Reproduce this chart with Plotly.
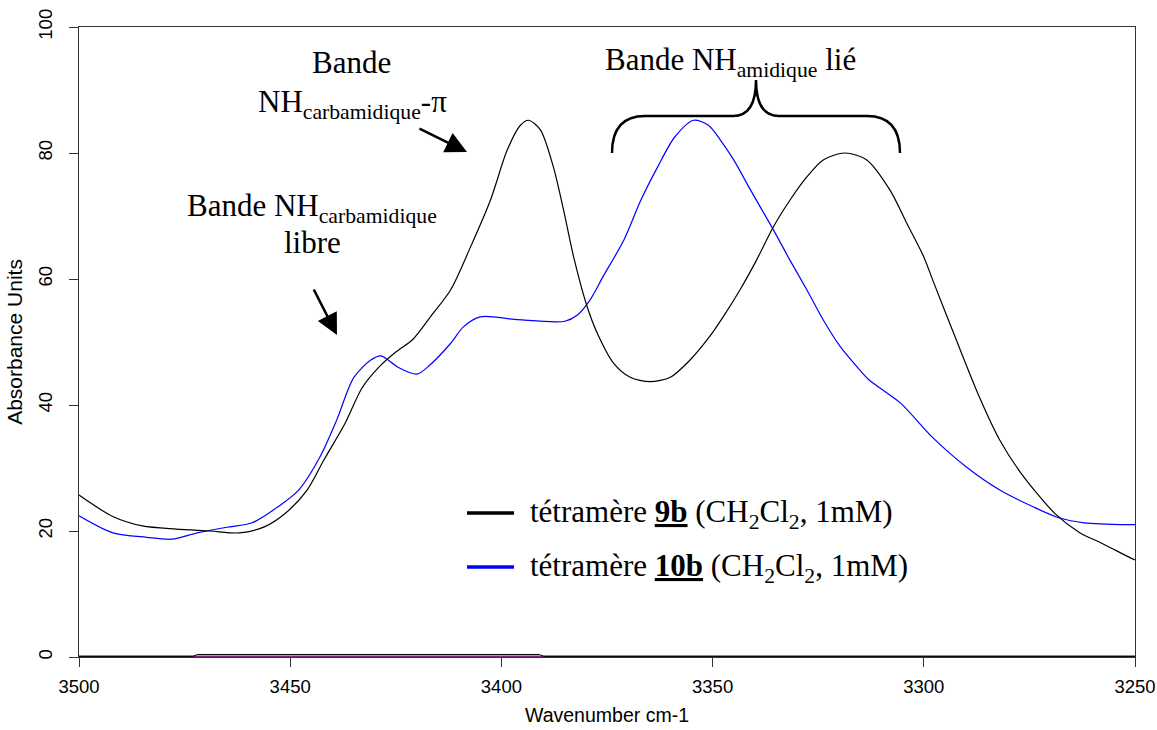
import plotly.graph_objects as go

# ---------------- data ----------------
wn_9b = [3500, 3492, 3485, 3477, 3469, 3462, 3456, 3451, 3446, 3442, 3437, 3433, 3429, 3425,
         3421, 3416.8, 3412, 3407.3, 3402.6, 3398.6, 3395.5, 3393.6, 3390.8, 3387.7, 3385.3,
         3382.9, 3379.7, 3377.3, 3373.5, 3369.5, 3364.8, 3360, 3355.4, 3351, 3347.5, 3343.5,
         3339.6, 3335.6, 3331.7, 3327.7, 3323.8, 3318.7, 3313.5, 3308, 3304, 3300, 3297.7,
         3293, 3287, 3282, 3277, 3269, 3263, 3258, 3251, 3250]
abs_9b = [25.7, 22.3, 20.8, 20.3, 20.0, 19.7, 20.7, 22.9, 26.5, 31.3, 37.1, 42.7, 46.0, 48.4,
          50.4, 54.0, 58.3, 65.1, 72.5, 80.5, 84.4, 85.2, 83.7, 77.8, 71.0,
          63.5, 55.6, 51.4, 46.7, 44.4, 43.7, 44.4, 47.1, 50.6, 54.0, 58.3,
          63.0, 68.3, 72.5, 76.2, 78.9, 80.0, 78.9, 74.1, 68.8, 63.5, 59.5,
          51.5, 41.5, 34.4, 29.2, 22.8, 19.7, 18.1, 15.7, 15.4]

wn_10b = [3500, 3492, 3484, 3478, 3472, 3465, 3459, 3453, 3448, 3443, 3439, 3435, 3431, 3428.5,
          3424.5, 3420, 3417, 3412, 3409, 3405, 3397, 3391, 3385, 3382, 3379, 3376, 3371, 3367,
          3363, 3359, 3354.5, 3351, 3348.2, 3345, 3341, 3335.6, 3331.7, 3327.7, 3323.8, 3319.8,
          3316, 3313, 3305.5, 3298, 3290, 3282, 3274, 3268, 3262, 3251, 3250]
abs_10b = [22.4, 19.7, 19.0, 18.7, 19.7, 20.6, 21.3, 23.8, 26.5, 31.7, 37.6, 44.3, 47.1, 47.8,
           46.0, 44.9, 46.3, 49.8, 52.4, 54.0, 53.6, 53.3, 53.3, 54.3, 56.7, 60.3, 66.2, 72.5,
           77.8, 82.5, 85.2, 84.4, 82.1, 78.9, 74.1, 67.8, 63.0, 58.3, 53.5, 49.3,
           46.2, 44.0, 40.3, 34.9, 30.2, 26.5, 23.8, 22.1, 21.3, 21.0, 21.0]

# baseline traces near zero
wn_base = [3500, 3473, 3472, 3391, 3390, 3250]
abs_base_black = [0.1, 0.1, 0.4, 0.4, 0.1, 0.1]
wn_zero = [3500, 3250]
abs_zero = [0, 0]

x_ticks = [3500, 3450, 3400, 3350, 3300, 3250]
y_ticks = [0, 20, 40, 60, 80, 100]

legend_names = ["tétramère <b><u>9b</u></b> (CH<sub>2</sub>Cl<sub>2</sub>, 1mM)",
                "tétramère <b><u>10b</u></b> (CH<sub>2</sub>Cl<sub>2</sub>, 1mM)"]
legend_colors = ["#000000", "#0000ff"]

# ---------------- layout helpers ----------------
W, H = 1157, 730
L, R, T, B = 79, 1135, 27, 657          # plot area in pixels


def px(x, y):
    """pixel -> paper fraction"""
    return (x - L) / (R - L), (B - y) / (B - T)


SERIF = "Liberation Serif, Times New Roman, serif"
SANS = "Liberation Sans, Arial, sans-serif"
FS = 31

fig = go.Figure()
fig.add_trace(go.Scatter(x=wn_zero, y=abs_zero, mode="lines",
                         line=dict(color="#7a2a7a", width=3), showlegend=False, hoverinfo="skip"))
fig.add_trace(go.Scatter(x=wn_base, y=abs_base_black, mode="lines",
                         line=dict(color="#000000", width=1), showlegend=False, hoverinfo="skip"))
fig.add_trace(go.Scatter(x=wn_10b, y=abs_10b, mode="lines", name="10b",
                         line=dict(color="#0000ff", width=1.2, shape="spline", smoothing=0.8),
                         showlegend=False))
fig.add_trace(go.Scatter(x=wn_9b, y=abs_9b, mode="lines", name="9b",
                         line=dict(color="#000000", width=1.2, shape="spline", smoothing=0.8),
                         showlegend=False))

annotations = []
shapes = []


def text_at(txt, cx, cy, size=FS):
    x, y = px(cx, cy)
    annotations.append(dict(text=txt, x=x, y=y, xref="paper", yref="paper",
                            xanchor="center", yanchor="middle", showarrow=False,
                            font=dict(family=SERIF, size=size, color="black")))


def arrow(tail, tip):
    x, y = px(*tip)
    annotations.append(dict(text="", x=x, y=y, xref="paper", yref="paper",
                            ax=tail[0] - tip[0], ay=tail[1] - tip[1],
                            showarrow=True, arrowhead=2, arrowsize=1.7, arrowwidth=2.5,
                            arrowcolor="black", standoff=0))


text_at("Bande", 351, 62)
text_at("NH<sub>carbamidique</sub>-π", 352, 104)
text_at("Bande NH<sub>carbamidique</sub>", 312, 208)
text_at("libre", 312, 242)
text_at("Bande NH<sub>amidique</sub> lié", 730, 62)
arrow((418, 128), (467, 152))
arrow((313, 288), (337, 335))


def P(x, y):
    a, b = px(x, y)
    return f"{a:.5f},{b:.5f}"


path = (f"M {P(612,153)} Q {P(612,116)} {P(645,116)} L {P(733,116)} "
        f"Q {P(756,116)} {P(756,80)} Q {P(756,116)} {P(779,116)} "
        f"L {P(867,116)} Q {P(900,116)} {P(900,153)}")
shapes.append(dict(type="path", path=path, xref="paper", yref="paper",
                   line=dict(color="black", width=2.5)))

# manual legend
rows_y = [513, 567]
for name, col, ry in zip(legend_names, legend_colors, rows_y):
    x0, y0 = px(467, ry)
    x1, _ = px(514, ry)
    shapes.append(dict(type="line", x0=x0, x1=x1, y0=y0, y1=y0, xref="paper", yref="paper",
                       line=dict(color=col, width=3.5)))
    xa, ya = px(528, ry + 1)
    annotations.append(dict(text=name, x=xa, y=ya, xref="paper", yref="paper",
                            xanchor="left", yanchor="middle", showarrow=False,
                            font=dict(family=SERIF, size=31, color="black")))

fig.update_layout(
    width=W, height=H,
    margin=dict(l=L, r=W - R, t=T, b=H - B, pad=0),
    paper_bgcolor="white", plot_bgcolor="white",
    annotations=annotations, shapes=shapes,
    xaxis=dict(range=[3500, 3250], tickvals=x_ticks, ticks="outside", ticklen=9,
               tickcolor="#333", showline=True, linecolor="#333", linewidth=1, mirror=True,
               showgrid=False, zeroline=False, ticklabelstandoff=4, automargin=False,
               layer="below traces",
               tickfont=dict(family=SANS, size=18.5, color="black"),
               title=dict(text="Wavenumber cm-1", standoff=12,
                          font=dict(family=SANS, size=19.5, color="black"))),
    yaxis=dict(range=[0, 100], tickvals=y_ticks, ticks="outside", ticklen=9,
               tickcolor="#333", showline=True, linecolor="#333", linewidth=1, mirror=True,
               showgrid=False, zeroline=False, tickangle=-90, ticklabelstandoff=10,
               automargin=False, layer="below traces",
               tickfont=dict(family=SANS, size=18.5, color="black"),
               title=dict(text="Absorbance Units", standoff=6,
                          font=dict(family=SANS, size=21, color="black"))),
)

# remove the default 8px page margin so the figure fills the window exactly
fig.write_html("out.html", config={"displayModeBar": False},
               post_script="document.body.style.margin='0';document.body.style.overflow='hidden';")
